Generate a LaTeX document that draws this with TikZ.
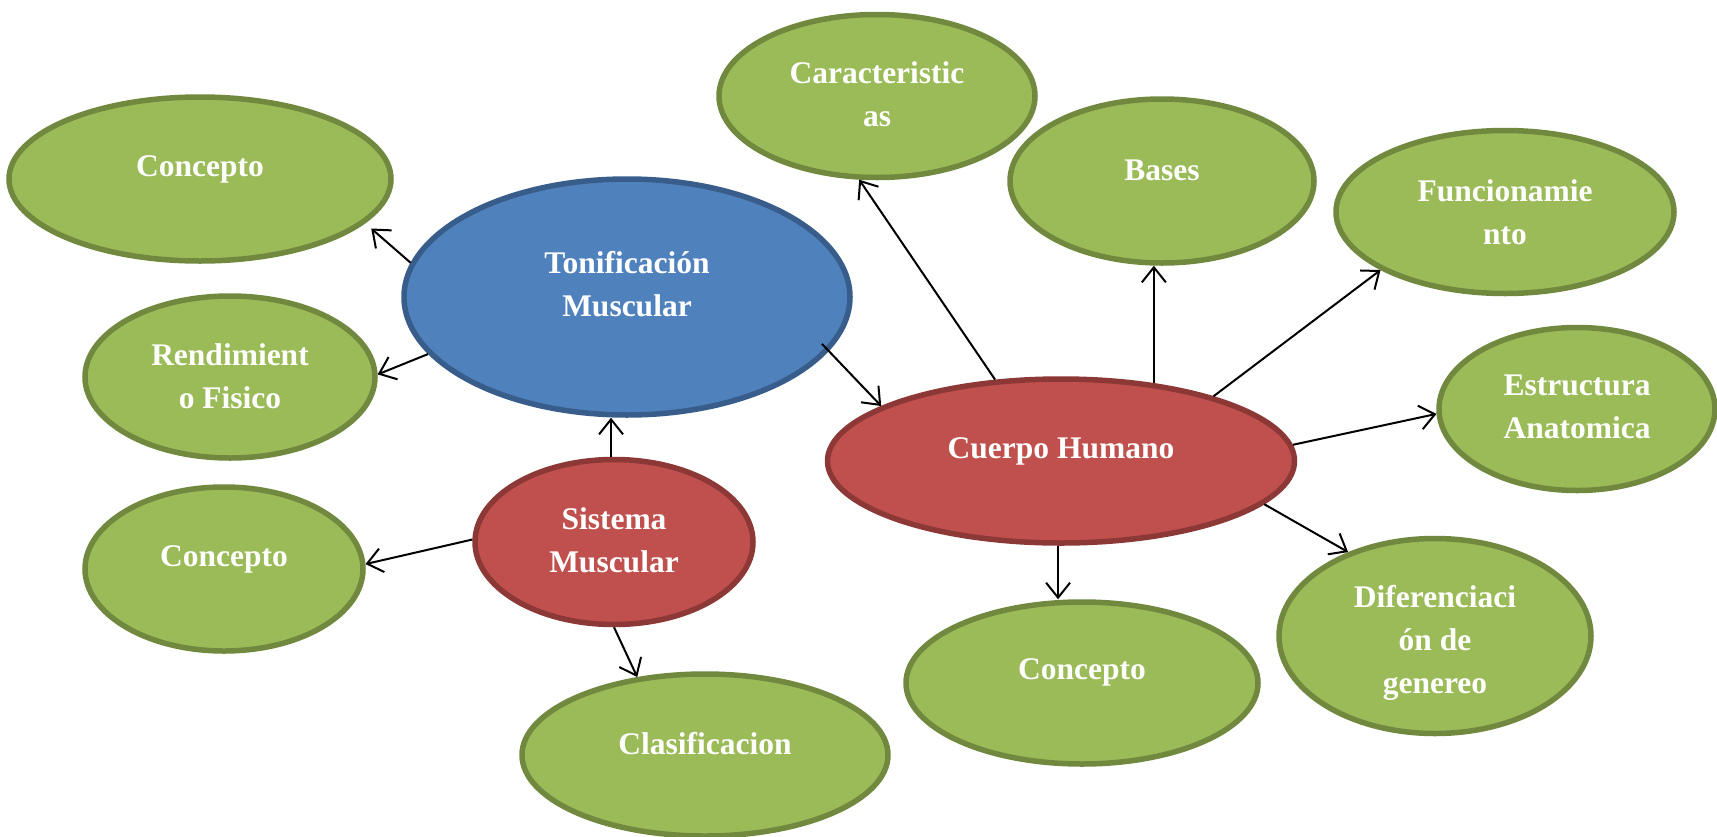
\documentclass[tikz,border=0pt]{standalone}
\usepackage{fontspec}
\setmainfont{Liberation Serif}
\usetikzlibrary{shapes.geometric,arrows.meta}
\definecolor{leaffill}{HTML}{9BBB59}
\definecolor{leafline}{HTML}{71893F}
\definecolor{corefill}{HTML}{4F81BD}
\definecolor{coreline}{HTML}{385D8A}
\definecolor{topicfill}{HTML}{C0504D}
\definecolor{topicline}{HTML}{8C3836}
\tikzset{
  bubble/.style={ellipse, line width=5.5pt, inner sep=0pt},
  leaf/.style={bubble, draw=leafline, fill=leaffill},
  topic/.style={bubble, draw=topicline, fill=topicfill},
  core/.style={bubble, draw=coreline, fill=corefill},
  txt/.style={text=white, font=\bfseries\fontsize{31.5}{43}\selectfont, align=center, inner sep=0pt},
  link/.style={-{Straight Barb[length=15pt,width=24pt]}, line width=2pt}
}
\begin{document}
\begin{tikzpicture}[x=1pt,y=-1pt]
  \useasboundingbox (0,0) rectangle (1717,836);
  % central ideas
  \node[core, minimum width=446pt, minimum height=236pt, label={[txt,yshift=13pt]center:{Tonificación\\Muscular}}] (tonif) at (627,297) {};
  \node[topic, minimum width=278pt, minimum height=165pt, label={[txt,yshift=2pt]center:{Sistema\\Muscular}}] (sistema) at (614,542) {};
  \node[topic, minimum width=467pt, minimum height=164pt, label={[txt,yshift=10pt]center:Cuerpo Humano}] (cuerpo) at (1061,461) {};
  % left side
  \node[leaf, minimum width=382pt, minimum height=164pt, label={[txt,yshift=10pt]center:Concepto}] (conc1) at (200,179) {};
  \node[leaf, minimum width=290pt, minimum height=162pt, label={[txt,yshift=1pt]center:{Rendimient\\o Fisico}}] (rend) at (230,377) {};
  \node[leaf, minimum width=278pt, minimum height=164pt, label={[txt,yshift=10pt]center:Concepto}] (conc2) at (224,569) {};
  \node[leaf, minimum width=366pt, minimum height=162pt, label={[txt,yshift=11pt]center:Clasificacion}] (clasif) at (705,755) {};
  % right side
  \node[leaf, minimum width=316pt, minimum height=163pt, label={[txt,yshift=2pt]center:{Caracteristic\\as}}] (carac) at (877,96) {};
  \node[leaf, minimum width=304pt, minimum height=164pt, label={[txt,yshift=11pt]center:Bases}] (bases) at (1162,181) {};
  \node[leaf, minimum width=338pt, minimum height=163pt, label={[txt]center:{Funcionamie\\nto}}] (func) at (1505,212) {};
  \node[leaf, minimum width=276pt, minimum height=163pt, label={[txt,yshift=2pt]center:{Estructura\\Anatomica}}] (estr) at (1577,409) {};
  \node[leaf, minimum width=312pt, minimum height=195pt, label={[txt,yshift=-7pt]center:{Diferenciaci\\ón de\\genereo}}] (dif) at (1435,636) {};
  \node[leaf, minimum width=352pt, minimum height=162pt, label={[txt,yshift=11pt]center:Concepto}] (conc3) at (1082,683) {};
  % arrows
  \draw[link, shorten >=8pt] (tonif.171) -- (conc1.-15);
  \draw[link] (tonif.196) -- (rend.1);
  \draw[link, shorten <=-10pt] (tonif.-15) -- (cuerpo.163);
  \draw[link] (sistema.92) -- (sistema.92 |- tonif.south);
  \draw[link] (sistema.179) -- (conc2.2);
  \draw[link] (sistema.270) -- (clasif.131);
  \draw[link] (cuerpo.129) -- (carac.258);
  \draw[link] (cuerpo.40) -- (cuerpo.40 |- bases.south);
  \draw[link] (cuerpo.23) -- (func.205);
  \draw[link] (cuerpo.4) -- (estr.182);
  \draw[link] (cuerpo.-12) -- (dif.136);
  \draw[link] (cuerpo.268) -- (cuerpo.268 |- conc3.north);
\end{tikzpicture}
\end{document}
